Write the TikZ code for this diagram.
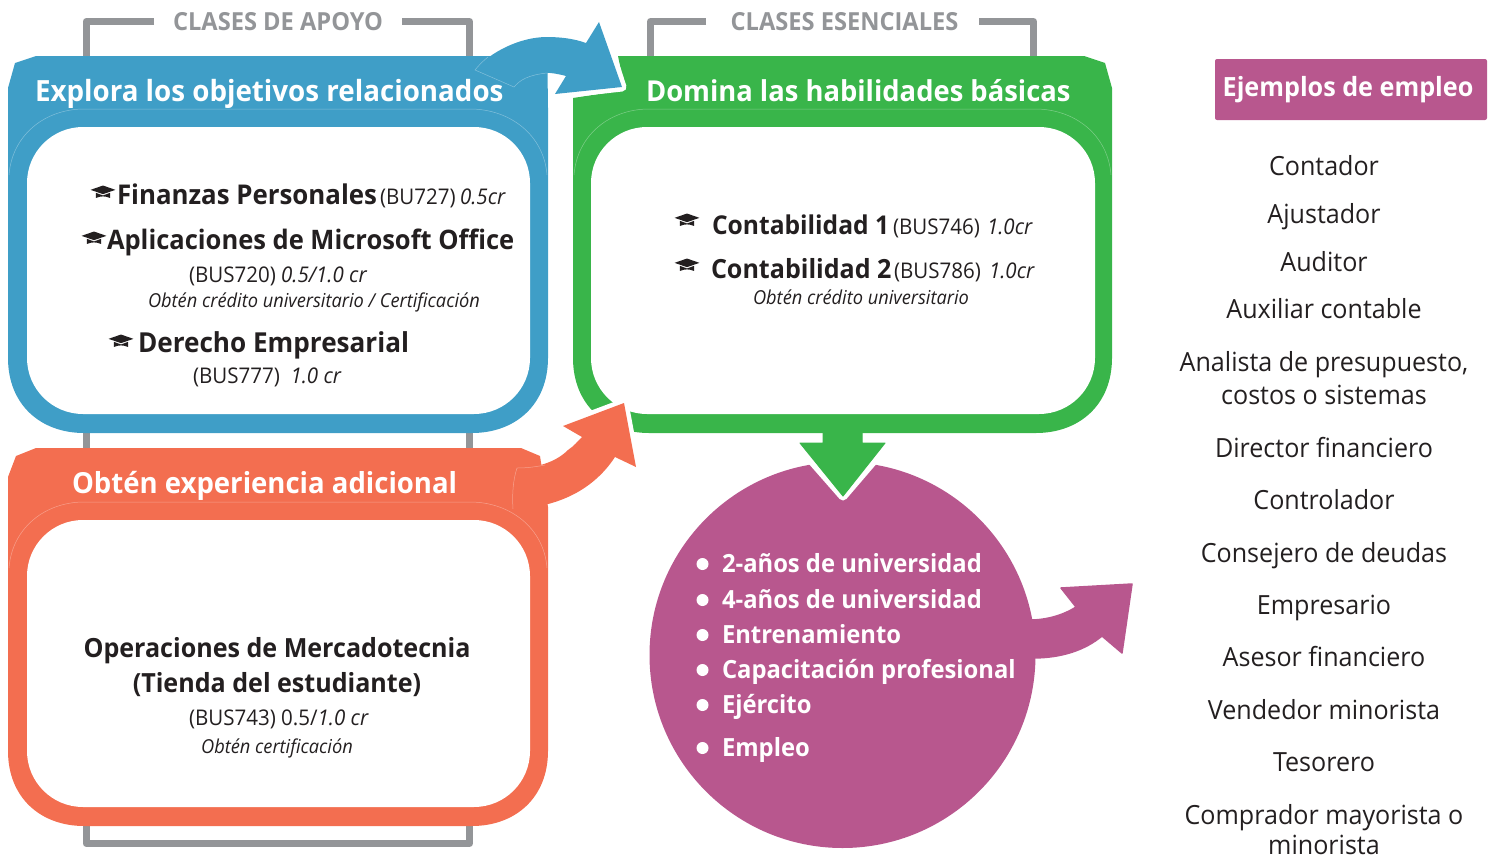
\documentclass[tikz,border=0pt]{standalone}
\usepackage{fontspec}
\setmainfont[FakeStretch=0.95]{Open Sans}
\definecolor{cblue}{HTML}{3F9EC7}
\definecolor{cgreen}{HTML}{39B54A}
\definecolor{corange}{HTML}{F36E50}
\definecolor{cpurple}{HTML}{B8578E}
\definecolor{cgray}{HTML}{939598}
\definecolor{cink}{HTML}{231F20}
\newcommand{\fs}[1]{\fontsize{#1}{#1}\selectfont}
\tikzset{
  txt/.style={inner sep=0pt,outer sep=0pt,text=cink},
  wl/.style={txt,anchor=base west},
  cl/.style={txt,anchor=base},
  panelt/.style={wl,text=white,font=\bfseries\fs{#1}},
  course/.style={wl,font=\bfseries\fs{#1}},
  coursec/.style={cl,font=\bfseries\fs{26.4}},
  code/.style={txt,font=\fs{21.6},anchor=base west},
  codei/.style={code,font=\itshape\fs{21.6}},
  note/.style={cl,font=\itshape\fs{19.2}},
  job/.style={cl,font=\fs{26.4}},
  li/.style={wl,text=white,font=\bfseries\fs{25.05}},
  dotb/.style={circle,fill=white,inner sep=0pt,minimum size=12pt},
  head/.style={txt,anchor=base,text=cgray,font=\bfseries\fs{24.9}},
  brk/.style={draw=cgray,line width=7pt,line join=round},
  faint/.style={draw=white,draw opacity=.35,line width=.5pt},
  gap/.style={draw=white,line width=9pt,line join=round,line cap=round},
  mortar/.pic={\fill[cink,scale=1.08] (0,-6) -- (11.5,-2) -- (0,2) -- (-11.5,-2) -- cycle
     (-6.5,.8) -- (0,3.2) -- (6.5,.8) -- (6.5,5.5) .. controls (2,3.6) and (-2,3.6) .. (-6.5,5.5) -- cycle;}
}
\begin{document}
\begin{tikzpicture}[x=1pt,y=-1pt]
\useasboundingbox (0,0) rectangle (1489,857);
% brackets
\draw[brk] (154,21.5) -- (86,21.5) -- (86,60);
\draw[brk] (402,21.5) -- (469.5,21.5) -- (469.5,60);
\draw[brk] (706,21.5) -- (650.5,21.5) -- (650.5,60);
\draw[brk] (979,21.5) -- (1033.5,21.5) -- (1033.5,60);
\draw[brk] (86,425) -- (86,455);
\draw[brk] (469.5,425) -- (469.5,455);
\draw[brk] (86,820) -- (86,843.5) -- (469.5,843.5) -- (469.5,820);
% blue panel
\fill[cblue] (8,88) -- (15,63) -- (36,56) -- (520,56) -- (547.5,70) -- (548,108) -- (548,358)
  .. controls (548,405) and (515,433) .. (472,433) -- (84,433) .. controls (41,433) and (8,405) .. (8,358) -- cycle;
\draw[faint] (9,175) .. controls (12,135) and (45,109) .. (84,109) -- (470,109) .. controls (510,109) and (544,135) .. (547,175);
\fill[white,rounded corners=56pt] (27,127) rectangle (530,414);
% green panel
\fill[cgreen] (573,98) -- (625,90) -- (618,56) -- (1084,56) -- (1105,63) -- (1112,88) -- (1112,358)
  .. controls (1112,405) and (1079,433) .. (1036,433) -- (649,433) .. controls (606,433) and (573,405) .. (573,358) -- cycle;
\draw[faint] (574,175) .. controls (577,135) and (610,109) .. (649,109) -- (1035,109) .. controls (1075,109) and (1108,135) .. (1111,175);
\fill[white,rounded corners=56pt] (591,127) rectangle (1095,414);
% orange panel
\fill[corange] (8,477) -- (16,456) -- (36,448) -- (521,448) -- (540,456) -- (548,507) -- (548,751)
  .. controls (548,798) and (515,826) .. (472,826) -- (84,826) .. controls (41,826) and (8,798) .. (8,751) -- cycle;
\draw[faint] (9,568) .. controls (12,528) and (45,502) .. (84,502) -- (470,502) .. controls (510,502) and (544,528) .. (547,568);
\fill[white,rounded corners=56pt] (27,520) rectangle (530,807);
% circle
\fill[cpurple] (842.5,655) circle (193);
% purple arrow
\fill[cpurple,draw=cpurple,line width=1.5pt,line join=round] (1030,620) .. controls (1045,620) and (1062,616) .. (1076,607) -- (1061,588) -- (1132,584) -- (1122,653) -- (1102,636)
  .. controls (1085,650) and (1062,658) .. (1032,658) -- cycle;
% green arrow
\draw[gap] (800,447) -- (843,496) -- (885,447);
\fill[cgreen,draw=cgreen,line width=1pt,line join=round] (823,430) -- (862,430) -- (862,443) -- (885,443) -- (843,496) -- (800,443) -- (823,443) -- cycle;
% blue arrow
\draw[gap] (603,28) -- (622,87) -- (560,94);
\fill[cblue] (475,70) .. controls (490,52) and (520,37) .. (547,37) .. controls (562,37) and (575,39) .. (586,43) -- (599,22) -- (622,87) -- (555,94) -- (566,76)
  .. controls (555,73) and (545,72) .. (538,73) .. controls (528,75) and (520,80) .. (514,87) -- cycle;
\draw[faint] (488,57) .. controls (483,61) and (479,65) .. (475,70) -- (514,87) .. controls (520,80) and (528,75) .. (547,73);
% orange arrow
\draw[gap] (568,424) -- (624,403) -- (635,462);
\fill[corange] (517,468) .. controls (535,468) and (555,463) .. (568,450) .. controls (574,446) and (578,441) .. (582,437) -- (563,426) -- (624,403) -- (636,467) -- (615,457)
  .. controls (600,480) and (570,507) .. (513,509) .. controls (512,495) and (513,480) .. (517,468) -- cycle;
\draw[faint] (545,465) .. controls (535,467) and (526,468) .. (517,468) .. controls (513,480) and (512,495) .. (513,509);
% heads
\node[head] (h1) at (278,30.5) {CLASES DE APOYO};
\node[head] (h2) at (844.5,30.5) {CLASES ESENCIALES};
\node[panelt=29.2] (t1) at (35,101) {Explora los objetivos relacionados};
\node[panelt=28.8] (t2) at (646,101) {Domina las habilidades básicas};
\node[panelt=29] (t3) at (72,493) {Obtén experiencia adicional};
% blue text
\pic at (103,192) {mortar};
\node[course=27.2] (c1) at (117,204.5) {Finanzas Personales};
\node[code] (c1b) at (380,204) {(BU727)};
\node[codei] (c1c) at (460,204) {0.5cr};
\pic at (94,238) {mortar};
\node[course=26.85] (c2) at (107,249.5) {Aplicaciones de Microsoft Office};
\node[code] (c2b) at (189,282) {(BUS720) \textit{0.5/1.0 cr}};
\node[note] (c2n) at (314,307) {Obtén crédito universitario / Certificación};
\pic at (121,341) {mortar};
\node[course=27.5] (c3) at (138,352.5) {Derecho Empresarial};
\node[code] (c3b) at (193,383) {(BUS777) \textit{ 1.0 cr}};
% green text
\pic at (687,220) {mortar};
\node[course=25.9] (g1) at (712,234) {Contabilidad 1};
\node[code] (g1b) at (893,234) {(BUS746)};
\node[codei] (g1c) at (987,234) {1.0cr};
\pic at (687,265) {mortar};
\node[course=26.4] (g2) at (711,278) {Contabilidad 2};
\node[code] (g2b) at (894,278) {(BUS786)};
\node[codei] (g2c) at (989,278) {1.0cr};
\node[note] (g2n) at (861,304) {Obtén crédito universitario};
% orange text
\node[coursec] (o1) at (277,657) {Operaciones de Mercadotecnia};
\node[coursec] (o2) at (277,692) {(Tienda del estudiante)};
\node[code] (o3) at (189,725) {(BUS743) 0.5/\textit{1.0 cr}};
\node[note] (o4) at (277,753) {Obtén certificación};
% list
\node[dotb] (d1) at (702.5,564) {};
\node[dotb] (d2) at (702.5,600) {};
\node[dotb] (d3) at (702.5,635) {};
\node[dotb] (d4) at (702.5,670) {};
\node[dotb] (d5) at (702.5,705) {};
\node[dotb] (d6) at (702.5,748) {};
\node[li] (l1) at (722,572) {2-años de universidad};
\node[li] (l2) at (722,608) {4-años de universidad};
\node[li] (l3) at (722,643) {Entrenamiento};
\node[li] (l4) at (722,678) {Capacitación profesional};
\node[li] (l5) at (722,713) {Ejército};
\node[li] (l6) at (722,756) {Empleo};
% jobs
\node[fill=cpurple,rounded corners=2pt,minimum width=272pt,minimum height=61pt,inner sep=0pt] (eb) at (1351,89.5) {};
\node[cl,text=white,font=\bfseries\fs{26.5}] (et) at (1348,96) {Ejemplos de empleo};
\node[job] (j1) at (1324,175) {Contador};
\node[job] (j2) at (1324,223) {Ajustador};
\node[job] (j3) at (1324,271) {Auditor};
\node[job] (j4) at (1324,318) {Auxiliar contable};
\node[job] (j5) at (1324,371) {Analista de presupuesto,};
\node[job] (j5b) at (1324,404) {costos o sistemas};
\node[job] (j6) at (1324,457) {Director financiero};
\node[job] (j7) at (1324,509) {Controlador};
\node[job] (j8) at (1324,562) {Consejero de deudas};
\node[job] (j9) at (1324,614) {Empresario};
\node[job] (j10) at (1324,666) {Asesor financiero};
\node[job] (j11) at (1324,719) {Vendedor minorista};
\node[job] (j12) at (1324,771) {Tesorero};
\node[job] (j13) at (1324,824) {Comprador mayorista o};
\node[job] (j13b) at (1324,854) {minorista};
\end{tikzpicture}
\end{document}
